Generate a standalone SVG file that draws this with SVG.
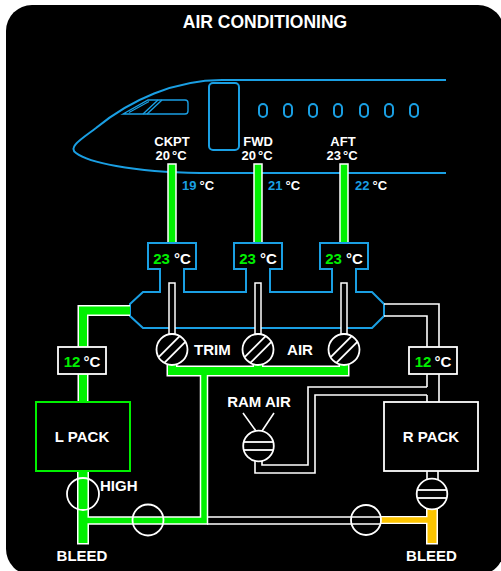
<svg xmlns="http://www.w3.org/2000/svg" width="501" height="571" viewBox="0 0 501 571">
  <style>
    text { font-family: "Liberation Sans", Arial, sans-serif; font-weight: bold; fill: #ffffff; }
    .blue { fill: none; stroke: #1a9fe3; stroke-width: 2; }
    .wl { fill: none; stroke: #ffffff; stroke-width: 1.6; }
    .box { fill: #000000; stroke: #ffffff; stroke-width: 1.8; }
    .ow { fill: none; stroke: #ffffff; stroke-linejoin: miter; stroke-linecap: butt; }
    .gr { fill: none; stroke: #00f000; stroke-linejoin: miter; stroke-linecap: butt; }
    .yl { fill: none; stroke: #fcc400; stroke-linejoin: miter; stroke-linecap: butt; }
    .g { fill: #00f000; }
    .b { fill: #1a9fe3; }
    .t15 { font-size: 15px; }
    .t13 { font-size: 13px; }
  </style>
  <defs>
    <!-- trim valve: open position, diagonal bars -->
    <g id="trimValve">
      <circle r="15.5" fill="#000" stroke="#fff" stroke-width="1.8"/>
      <line x1="-7.4" y1="13.1" x2="13.1" y2="-7.4" stroke="#fff" stroke-width="1.8"/>
      <line x1="-13.1" y1="7.4" x2="7.4" y2="-13.1" stroke="#fff" stroke-width="1.8"/>
    </g>
    <!-- shut valve: horizontal bars -->
    <g id="shutValve">
      <circle r="15.3" fill="#000" stroke="#fff" stroke-width="1.8"/>
      <line x1="-14.8" y1="-4" x2="14.8" y2="-4" stroke="#fff" stroke-width="1.8"/>
      <line x1="-14.8" y1="4" x2="14.8" y2="4" stroke="#fff" stroke-width="1.8"/>
    </g>
  </defs>

  <rect width="501" height="571" fill="#ffffff"/>
  <rect x="6" y="5" width="498" height="570" rx="26" fill="#000000"/>

  <text x="265" y="28" text-anchor="middle" style="font-size:17.5px">AIR CONDITIONING</text>

  <!-- fuselage -->
  <g id="fuselage">
    <path class="blue" d="M446,80 H222 C175,80 130,100 96,128 C80,140 68,147 76,153 C88,162 130,172 200,173 H446"/>
    <path class="blue" stroke-width="1.3" d="M123,114 L148,100 H185 Q188,100 188,103 V111 Q188,114 185,114 Z" style="stroke-width:1.4"/>
    <line class="blue" x1="129" y1="112.5" x2="149" y2="101.5" style="stroke-width:1.2"/>
    <line class="blue" x1="143" y1="114" x2="158" y2="100" style="stroke-width:1.4"/>
    <line class="blue" x1="147" y1="114" x2="162" y2="100" style="stroke-width:1.4"/>
    <rect class="blue" x="209" y="83" width="30" height="67" rx="4"/>
    <rect class="blue" x="259" y="104" width="8" height="13" rx="4"/>
    <rect class="blue" x="284" y="104" width="8" height="13" rx="4"/>
    <rect class="blue" x="309" y="104" width="8" height="13" rx="4"/>
    <rect class="blue" x="334" y="104" width="8" height="13" rx="4"/>
    <rect class="blue" x="360" y="104" width="8" height="13" rx="4"/>
    <rect class="blue" x="385" y="104" width="8" height="13" rx="4"/>
    <rect class="blue" x="410" y="104" width="8" height="13" rx="4"/>
  </g>

  <!-- zone labels -->
  <g id="zone-ckpt">
    <text class="t13" x="172" y="145.5" text-anchor="middle">CKPT</text>
    <text class="t13" x="171" y="160" text-anchor="middle">20<tspan dx="2">°C</tspan></text>
    <text class="t13" x="182" y="190"><tspan class="b">19</tspan><tspan dx="3">°C</tspan></text>
  </g>
  <g id="zone-fwd">
    <text class="t13" x="258" y="145.5" text-anchor="middle">FWD</text>
    <text class="t13" x="257" y="160" text-anchor="middle">20<tspan dx="2">°C</tspan></text>
    <text class="t13" x="268" y="190"><tspan class="b">21</tspan><tspan dx="3">°C</tspan></text>
  </g>
  <g id="zone-aft">
    <text class="t13" x="343" y="145.5" text-anchor="middle">AFT</text>
    <text class="t13" x="342" y="160" text-anchor="middle">23<tspan dx="2">°C</tspan></text>
    <text class="t13" x="355" y="190"><tspan class="b">22</tspan><tspan dx="3">°C</tspan></text>
  </g>

  <!-- connectors -->
  <g id="connectors">
    <!-- zone supply ducts -->
    <rect x="168" y="164" width="8" height="79" fill="#00f000" stroke="#fff" stroke-width="1.5"/>
    <rect x="254" y="164" width="8" height="79" fill="#00f000" stroke="#fff" stroke-width="1.5"/>
    <rect x="340" y="164" width="8" height="79" fill="#00f000" stroke="#fff" stroke-width="1.5"/>

    <!-- mixing manifold with trim boxes -->
    <path class="blue" fill="#000" style="fill:#000" d="M130,304 L143,292 H160 V269 H148 V243 H196 V269 H184 V292 H246 V269 H234 V243 H282 V269 H270 V292 H332 V269 H320 V243 H368 V269 H356 V292 H372 L384,304 V316 L372,328 H143 L130,316 Z"/>

    <!-- trim air tubes -->
    <rect class="box" x="169" y="283" width="6" height="51" style="stroke-width:1.5"/>
    <rect class="box" x="255" y="283" width="6" height="51" style="stroke-width:1.5"/>
    <rect class="box" x="341" y="283" width="6" height="51" style="stroke-width:1.5"/>

    <!-- outlines of active ducts -->
    <path class="ow" stroke-width="11" d="M130,310.5 H83 V402"/>
    <path class="ow" stroke-width="11" d="M172,362 V371 H344 V362 M258,362 V371"/>
    <path class="ow" stroke-width="8.5" d="M204,371 V520.5 H83"/>
    <path class="ow" stroke-width="12" d="M83,470 V544.5"/>
    <path class="ow" stroke-width="8" d="M380,520 H432"/>
    <path class="ow" stroke-width="12" d="M432,508 V544.5"/>

    <!-- active duct fill -->
    <path class="gr" stroke-width="8" d="M130,310.5 H83 V402"/>
    <path class="gr" stroke-width="8" d="M172,362 V371 H344 V362 M258,362 V371"/>
    <path class="gr" stroke-width="5.5" d="M204,371 V520.5 H83"/>
    <path class="gr" stroke-width="9" d="M83,471 V543"/>
    <path class="yl" stroke-width="5.5" d="M381,520 H432"/>
    <path class="yl" stroke-width="9" d="M432,509 V543"/>

    <!-- right pack supply -->
    <path class="wl" d="M384,304 H439 V347 M384,316 H427 V347"/>
    <path class="wl" d="M427,374 V387 M427,395 V402 M439,374 V402"/>
    <!-- ram air ducting -->
    <path class="wl" d="M262,460 V465 H308 V387 H427 M255,460 V473 H315 V395 H427"/>
    <!-- cross bleed tube -->
    <path class="wl" d="M207,517 H381 M207,524 H381"/>
    <!-- R pack outlet -->
    <path class="wl" d="M427,471 V480 M438,471 V480"/>
  </g>

  <!-- trim boxes -->
  <g id="trim-ckpt">
    <text class="t15" x="172" y="263.5" text-anchor="middle"><tspan class="g">23</tspan><tspan dx="4">°C</tspan></text>
    <use href="#trimValve" x="172" y="349.5"/>
  </g>
  <g id="trim-fwd">
    <text class="t15" x="258" y="263.5" text-anchor="middle"><tspan class="g">23</tspan><tspan dx="4">°C</tspan></text>
    <use href="#trimValve" x="258" y="349.5"/>
  </g>
  <g id="trim-aft">
    <text class="t15" x="344" y="263.5" text-anchor="middle"><tspan class="g">23</tspan><tspan dx="4">°C</tspan></text>
    <use href="#trimValve" x="344" y="349.5"/>
  </g>
  <text class="t15" x="194" y="355">TRIM</text>
  <text class="t15" x="300" y="355" text-anchor="middle">AIR</text>

  <!-- left pack -->
  <g id="left-pack-temp">
    <rect class="box" x="58" y="347" width="48" height="27"/>
    <text class="t15" x="82" y="366.5" text-anchor="middle"><tspan class="g">12</tspan><tspan dx="3">°C</tspan></text>
  </g>
  <g id="l-pack">
    <rect x="36" y="402" width="94" height="69" fill="#000" stroke="#00f000" stroke-width="2"/>
    <text class="t15" x="82" y="442" text-anchor="middle">L PACK</text>
  </g>

  <!-- right pack -->
  <g id="right-pack-temp">
    <rect class="box" x="409" y="347" width="48" height="27"/>
    <text class="t15" x="433" y="366.5" text-anchor="middle"><tspan class="g">12</tspan><tspan dx="3">°C</tspan></text>
  </g>
  <g id="r-pack">
    <rect class="box" x="384" y="402" width="94" height="69"/>
    <text class="t15" x="431" y="442" text-anchor="middle">R PACK</text>
  </g>
  <g id="r-pack-valve">
    <use href="#shutValve" x="432" y="494"/>
  </g>

  <!-- ram air -->
  <g id="ram-air">
    <text class="t15" x="259" y="407" text-anchor="middle">RAM AIR</text>
    <path class="wl" d="M243,413 L256,431 M274,413 L262,431"/>
    <use href="#shutValve" x="258.5" y="446"/>
  </g>

  <!-- bleed valves -->
  <g id="high-valve">
    <circle class="wl" cx="83" cy="494" r="16" style="stroke-width:1.8"/>
    <text class="t15" x="100" y="490.5">HIGH</text>
  </g>
  <g id="left-xbleed-valve">
    <circle class="wl" cx="148" cy="520" r="15.5" style="stroke-width:1.8"/>
  </g>
  <g id="right-xbleed-valve">
    <circle class="wl" cx="366" cy="520" r="15" style="stroke-width:1.8"/>
  </g>
  <g id="left-bleed">
    <text class="t15" x="82" y="561" text-anchor="middle">BLEED</text>
  </g>
  <g id="right-bleed">
    <text class="t15" x="431.5" y="561" text-anchor="middle">BLEED</text>
  </g>
</svg>
